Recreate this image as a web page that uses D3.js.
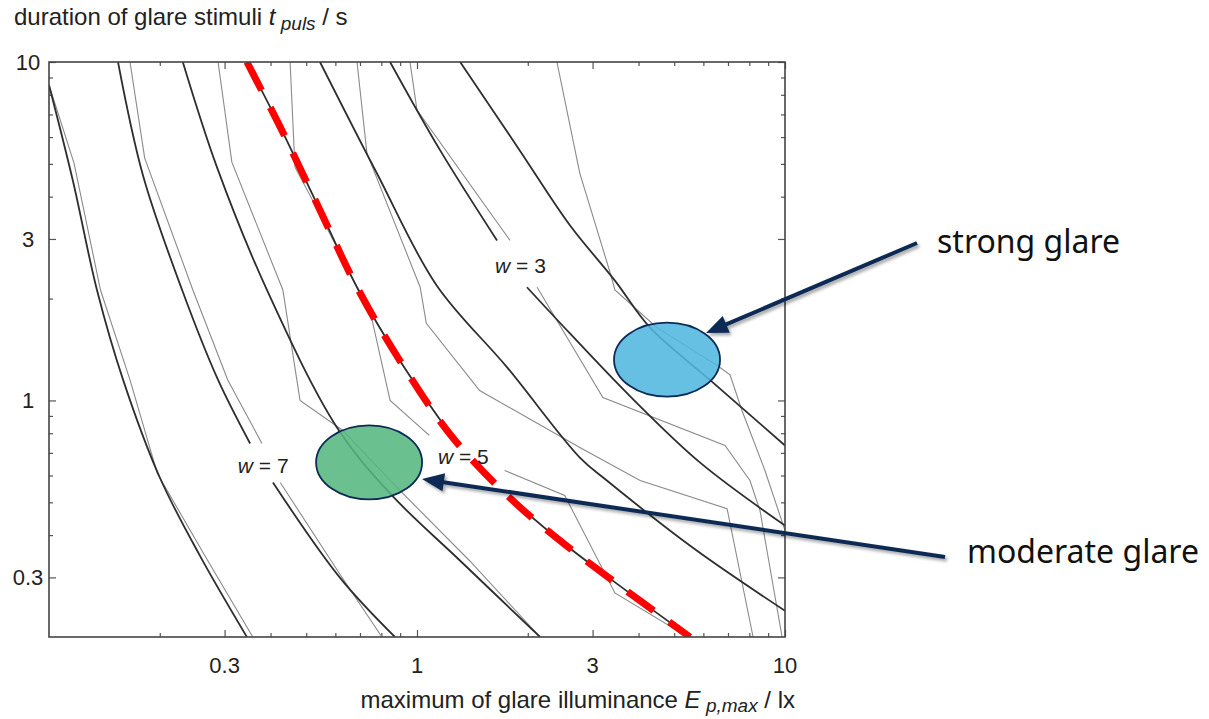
<!DOCTYPE html>
<html>
<head>
<meta charset="utf-8">
<script src="https://cdn.jsdelivr.net/npm/d3@7"></script>
<style>
  body { margin: 0; background: #fff; }
  svg { display: block; }
</style>
</head>
<body>
<svg class="chart"></svg>
<script>
// points are [E_p,max in lx, t_puls in s]; null = gap for a label
// smooth (fitted) curves
var fit1 = [[0.1, 8.55], [0.116, 4.48], [0.135, 2.12], [0.159, 1.15], [0.200, 0.592], [0.257, 0.348], [0.345, 0.2]];
var fit2 = [[0.154, 10], [0.180, 4.63], [0.230, 2.12], [0.288, 1.15], [0.352, 0.746], null, [0.406, 0.572], [0.618, 0.299], [0.871, 0.2]];
var fit3 = [[0.231, 10], [0.286, 4.89], [0.391, 2.12], [0.606, 0.832], [0.845, 0.531], [1.31, 0.336], [2.16, 0.2]];
var fit4 = [[0.345, 10], [0.425, 6.42], [0.545, 3.65], [0.687, 2.16], [0.899, 1.31], [1.25, 0.777], null, [1.82, 0.506], [2.45, 0.385], [3.41, 0.293], [5.52, 0.2]];
var fit5 = [[0.545, 10], [0.778, 4.69], [1.13, 2.19], [1.76, 1.25], [2.77, 0.678], [3.28, 0.580], [5.62, 0.367], [10, 0.239]];
var fit6 = [[0.845, 10], [1.155, 5.49], [1.65, 2.97], null, [1.99, 2.16], [2.60, 1.58], [3.79, 1.03], [5.87, 0.656], [10, 0.427]];
var fit7 = [[1.31, 10], [1.90, 5.49], [2.60, 3.30], [3.45, 2.26], [4.30, 1.64], [6.25, 1.15], [10, 0.736]];

// kinked (measured) lines
var meas1 = [[0.1, 8.55], [0.117, 5.02], [0.138, 2.12], [0.166, 1.15], [0.197, 0.608], [0.265, 0.348], [0.358, 0.2]];
var meas2 = [[0.166, 10], [0.182, 5.20], [0.246, 2.12], [0.306, 1.15], [0.379, 0.746], null, [0.425, 0.572], [0.618, 0.306], [0.803, 0.2]];
var meas3 = [[0.288, 10], [0.314, 5.06], [0.432, 2.12], [0.481, 1.0], [0.629, 0.815], [0.871, 0.561], [1.39, 0.336], [2.16, 0.2]];
var meas4 = [[0.452, 10], [0.466, 4.89], [0.538, 3.65], [0.687, 2.16], [0.755, 1.73], [0.845, 1.0], [1.08, 0.788], null, [1.73, 0.621], [2.52, 0.524], [3.45, 0.270], [5.45, 0.2]];
var meas5 = [[0.687, 10], [0.731, 5.38], [1.02, 2.16], [1.06, 1.69], [1.48, 1.07], [2.77, 0.726], [4.04, 0.580], [6.96, 0.479], [8.19, 0.2]];
var meas6 = [[0.957, 10], [1.0, 7.21], [1.79, 2.97], null, [2.12, 2.16], [3.20, 1.02], [6.87, 0.736], [8.03, 0.580], [8.55, 0.473], [9.82, 0.2]];
var meas7 = [[2.40, 10], [2.77, 4.69], [3.35, 2.38], [3.45, 2.12], [4.49, 1.64], [6.53, 1.27], [7.09, 1.19], [7.64, 0.934], [8.82, 0.621], [10, 0.413]];

// red dashed limit follows the fourth fitted curve
var glareLimit = fit4.filter(function (d) { return d; });

// tick labels
var xMajor = [0.3, 1, 3, 10];
var xMinor = [0.2, 0.4, 0.5, 0.6, 0.7, 0.8, 0.9, 2, 4, 5, 6, 7, 8, 9];
var yMajor = [0.3, 1, 3, 10];
var yMinor = [0.4, 0.5, 0.6, 0.7, 0.8, 0.9, 2, 4, 5, 6, 7, 8, 9];

// curve labels w = ... (text position in data units)
var wLabels = [{ w: 7, E: 0.326, t: 0.612 }, { w: 5, E: 1.14, t: 0.651 }, { w: 3, E: 1.63, t: 2.38 }];

// glare zones (centre in data units)
var zones = [
    { name: "strong glare", E: 4.78, t: 1.32, fill: "#50b7df" },
    { name: "moderate glare", E: 0.741, t: 0.656, fill: "#55b77e" }
];

function show() {
    'use strict';

    var width = 1209, height = 719;
    var plot = { left: 49, right: 785, top: 62, bottom: 637 };

    var svg = d3.select(".chart")
        .attr("width", width)
        .attr("height", height)
        .style("background", "#fff");

    var x = d3.scaleLog().domain([0.1, 10]).range([plot.left, plot.right]);
    var y = d3.scaleLog().domain([0.2, 10]).range([plot.bottom, plot.top]);

    var defs = svg.append("defs");
    defs.append("clipPath").attr("id", "plotclip")
        .append("rect")
        .attr("x", plot.left).attr("y", plot.top)
        .attr("width", plot.right - plot.left).attr("height", plot.bottom - plot.top);

    var shadow = defs.append("filter").attr("id", "shadow")
        .attr("x", "-10%").attr("y", "-50%").attr("width", "120%").attr("height", "200%");
    shadow.append("feDropShadow")
        .attr("dx", 2).attr("dy", 2.5).attr("stdDeviation", 1.5)
        .attr("flood-color", "#000").attr("flood-opacity", 0.35);

    // axes: ticks point inwards, labels drawn separately
    var axes = [
        { a: d3.axisBottom(x), tr: "translate(0," + plot.bottom + ")", maj: xMajor, min: xMinor },
        { a: d3.axisTop(x), tr: "translate(0," + plot.top + ")", maj: xMajor, min: xMinor },
        { a: d3.axisLeft(y), tr: "translate(" + plot.left + ",0)", maj: yMajor, min: yMinor },
        { a: d3.axisRight(y), tr: "translate(" + plot.right + ",0)", maj: yMajor, min: yMinor }
    ];

    axes.forEach(function (ax) {
        [[ax.maj, 7], [ax.min, 4]].forEach(function (set) {
            var g = svg.append("g").attr("transform", ax.tr)
                .call(ax.a.tickValues(set[0]).tickSizeInner(-set[1]).tickSizeOuter(0).tickFormat(""));
            g.select(".domain").remove();
            g.selectAll("text").remove();
            g.selectAll("line").attr("stroke", "#555").attr("stroke-width", 1.2);
        });
    });

    var labelFont = "'Liberation Sans', Arial, sans-serif";

    svg.append("g").selectAll("text").data(xMajor).enter()
        .append("text")
        .attr("x", function (d) { return x(d); })
        .attr("y", 673)
        .attr("text-anchor", "middle")
        .attr("font-family", labelFont).attr("font-size", 22).attr("fill", "#222")
        .text(function (d) { return d3.format("~g")(d); });

    svg.append("g").selectAll("text").data(yMajor).enter()
        .append("text")
        .attr("x", 28)
        .attr("y", function (d) { return y(d); })
        .attr("dy", "0.36em")
        .attr("text-anchor", "middle")
        .attr("font-family", labelFont).attr("font-size", 22).attr("fill", "#222")
        .text(function (d) { return d3.format("~g")(d); });

    // curves
    var curves = svg.append("g").attr("clip-path", "url(#plotclip)");

    var smooth = d3.line()
        .defined(function (d) { return d; })
        .x(function (d) { return x(d[0]); })
        .y(function (d) { return y(d[1]); })
        .curve(d3.curveCatmullRom.alpha(0.5));

    var kinked = d3.line()
        .defined(function (d) { return d; })
        .x(function (d) { return x(d[0]); })
        .y(function (d) { return y(d[1]); });

    curves.selectAll("path.meas")
        .data([meas1, meas2, meas3, meas4, meas5, meas6, meas7]).enter()
        .append("path").attr("class", "meas")
        .attr("d", kinked)
        .attr("fill", "none").attr("stroke", "#8a8a8a").attr("stroke-width", 1.1);

    curves.selectAll("path.fit")
        .data([fit1, fit2, fit3, fit4, fit5, fit6, fit7]).enter()
        .append("path").attr("class", "fit")
        .attr("d", smooth)
        .attr("fill", "none").attr("stroke", "#2e2e2e").attr("stroke-width", 1.8);

    curves.append("path")
        .attr("d", smooth(glareLimit))
        .attr("fill", "none").attr("stroke", "#ff0000").attr("stroke-width", 7)
        .attr("stroke-dasharray", "32,19");

    // frame
    svg.append("rect")
        .attr("x", plot.left).attr("y", plot.top)
        .attr("width", plot.right - plot.left).attr("height", plot.bottom - plot.top)
        .attr("fill", "none").attr("stroke", "#444").attr("stroke-width", 1.6);

    // w labels
    var wl = svg.append("g").selectAll("text").data(wLabels).enter()
        .append("text")
        .attr("x", function (d) { return x(d.E); })
        .attr("y", function (d) { return y(d.t); })
        .attr("font-family", labelFont).attr("font-size", 21).attr("fill", "#222");
    wl.append("tspan").attr("font-style", "italic").text("w");
    wl.append("tspan").text(function (d) { return " = " + d.w; });

    // axis titles
    var yt = svg.append("text").attr("x", 14).attr("y", 25)
        .attr("font-family", labelFont).attr("font-size", 24).attr("fill", "#222");
    yt.append("tspan").text("duration of glare stimuli ");
    yt.append("tspan").attr("font-style", "italic").text("t");
    yt.append("tspan").attr("font-style", "italic").attr("font-size", 19).attr("dy", 5).text(" puls");
    yt.append("tspan").attr("dy", -5).text("  / s");

    var xt = svg.append("text").attr("x", 795).attr("y", 708)
        .attr("text-anchor", "end")
        .attr("font-family", labelFont).attr("font-size", 24).attr("fill", "#222");
    xt.append("tspan").text("maximum of glare illuminance ");
    xt.append("tspan").attr("font-style", "italic").text("E");
    xt.append("tspan").attr("font-style", "italic").attr("font-size", 19).attr("dy", 4).text(" p,max");
    xt.append("tspan").attr("dy", -4).text("  / lx");

    // glare zones
    svg.append("g").selectAll("ellipse").data(zones).enter()
        .append("ellipse")
        .attr("cx", function (d) { return x(d.E); })
        .attr("cy", function (d) { return y(d.t); })
        .attr("rx", 53).attr("ry", 37)
        .attr("fill", function (d) { return d.fill; })
        .attr("fill-opacity", 0.88)
        .attr("stroke", "#0f2b55").attr("stroke-width", 1.8);

    // callouts: text position and arrow (tail -> tip at the ellipse)
    var callouts = [
        { text: "strong glare", tx: 937, ty: 253, x0: 917, y0: 243, x1: 706, y1: 333 },
        { text: "moderate glare", tx: 967, ty: 563, x0: 945, y0: 557, x1: 422, y1: 479 }
    ];

    var arrows = svg.append("g").attr("filter", "url(#shadow)");
    callouts.forEach(function (c) {
        var dx = c.x1 - c.x0, dy = c.y1 - c.y0, L = Math.sqrt(dx * dx + dy * dy);
        var ux = dx / L, uy = dy / L, len = 22, hw = 9;
        var bx = c.x1 - ux * len, by = c.y1 - uy * len;
        arrows.append("line")
            .attr("x1", c.x0).attr("y1", c.y0).attr("x2", bx + ux * 2).attr("y2", by + uy * 2)
            .attr("stroke", "#0f2b55").attr("stroke-width", 4);
        arrows.append("polygon")
            .attr("points", [[c.x1, c.y1], [bx - uy * hw, by + ux * hw], [bx + uy * hw, by - ux * hw]]
                .map(function (p) { return p.join(","); }).join(" "))
            .attr("fill", "#0f2b55");
    });

    svg.append("g").selectAll("text").data(callouts).enter()
        .append("text")
        .attr("x", function (d) { return d.tx; })
        .attr("y", function (d) { return d.ty; })
        .attr("font-family", "'Noto Sans', 'Open Sans', sans-serif")
        .attr("font-size", 32).attr("fill", "#111")
        .text(function (d) { return d.text; });
}

show();
</script>
</body>
</html>
